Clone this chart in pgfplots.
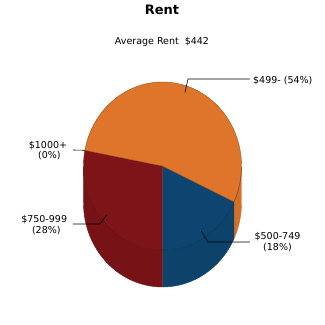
\documentclass[border=0pt]{standalone}
\usepackage{pgfplots}
\pgfplotsset{compat=1.18}
\usepackage{pgfplotstable}
\usepackage{fontspec}
\setmainfont{DejaVu Sans}

\definecolor{sliceOrange}{RGB}{222,117,42}
\definecolor{sliceRed}{RGB}{125,20,24}
\definecolor{sliceBlue}{RGB}{14,69,112}

% share of renters in each rent bracket (percent)
\pgfplotstableread{
bracket pct
0 54
1 18
2 28
3 0
}\rentdata

\begin{document}
\begin{tikzpicture}
% pie geometry (axis units = pt)
\def\cx{162.5}\def\cy{159}\def\rx{79}\def\ry{84}\def\dep{37}
\pgfplotstablegetelem{0}{pct}\of\rentdata \let\pA\pgfplotsretval
\pgfplotstablegetelem{1}{pct}\of\rentdata \let\pB\pgfplotsretval
\pgfplotstablegetelem{2}{pct}\of\rentdata \let\pC\pgfplotsretval
\pgfplotstablegetelem{3}{pct}\of\rentdata \let\pD\pgfplotsretval
% slice boundaries, running clockwise from the start angle
\pgfmathsetmacro{\aStart}{169.2}
\pgfmathsetmacro{\aOB}{\aStart-3.6*\pA}
\pgfmathsetmacro{\aBR}{\aOB-3.6*\pB}
\pgfmathsetmacro{\aRK}{\aBR-3.6*\pC}
\pgfmathsetmacro{\aEnd}{\aRK-3.6*\pD}
% leader anchor points at the middle of each slice
\pgfmathsetmacro{\mO}{(\aStart+\aOB)/2}
\pgfmathsetmacro{\mB}{(\aOB+\aBR)/2}
\pgfmathsetmacro{\mR}{(\aBR+\aRK)/2}
\pgfmathsetmacro{\xO}{\cx+0.92*\rx*cos(\mO)}\pgfmathsetmacro{\yO}{\cy+0.92*\ry*sin(\mO)}
\pgfmathsetmacro{\xB}{\cx+0.92*\rx*cos(\mB)}\pgfmathsetmacro{\yB}{\cy+0.92*\ry*sin(\mB)}
\pgfmathsetmacro{\xR}{\cx+0.92*\rx*cos(\mR)}\pgfmathsetmacro{\yR}{\cy+0.92*\ry*sin(\mR)}
\pgfmathsetmacro{\xK}{\cx+\rx*cos(\aRK)}\pgfmathsetmacro{\yK}{\cy+\ry*sin(\aRK)}
\begin{axis}[
  width=325pt, height=325pt, scale only axis,
  xmin=0, xmax=325, ymin=0, ymax=325,
  hide axis, clip=false,
]
\fill[white] (axis cs:0,0) rectangle (axis cs:325,325);

% visible side walls (front half)
\filldraw[fill=sliceOrange!95!black, draw=sliceOrange!95!black, line width=0.4pt]
  (axis cs:\cx,\cy) ++(0:\rx pt and \ry pt)
  arc[start angle=0, end angle=\aOB, x radius=\rx pt, y radius=\ry pt]
  -- ++(0,-\dep pt)
  arc[start angle=\aOB, end angle=0, x radius=\rx pt, y radius=\ry pt] -- cycle;
\filldraw[fill=sliceBlue!95!black, draw=sliceBlue!95!black, line width=0.4pt]
  (axis cs:\cx,\cy) ++(\aOB:\rx pt and \ry pt)
  arc[start angle=\aOB, end angle=\aBR, x radius=\rx pt, y radius=\ry pt]
  -- ++(0,-\dep pt)
  arc[start angle=\aBR, end angle=\aOB, x radius=\rx pt, y radius=\ry pt] -- cycle;
\filldraw[fill=sliceRed!95!black, draw=sliceRed!95!black, line width=0.4pt]
  (axis cs:\cx,\cy) ++(\aBR:\rx pt and \ry pt)
  arc[start angle=\aBR, end angle=-180, x radius=\rx pt, y radius=\ry pt]
  -- ++(0,-\dep pt)
  arc[start angle=-180, end angle=\aBR, x radius=\rx pt, y radius=\ry pt] -- cycle;

% top faces
\filldraw[fill=sliceBlue, draw=sliceBlue, line width=0.4pt]
  (axis cs:\cx,\cy) -- ++(\aOB:\rx pt and \ry pt)
  arc[start angle=\aOB, end angle=\aBR, x radius=\rx pt, y radius=\ry pt] -- cycle;
\filldraw[fill=sliceRed, draw=sliceRed, line width=0.4pt]
  (axis cs:\cx,\cy) -- ++(\aBR:\rx pt and \ry pt)
  arc[start angle=\aBR, end angle=\aRK, x radius=\rx pt, y radius=\ry pt] -- cycle;
\filldraw[fill=sliceOrange, draw=sliceOrange!70!black, line width=0.4pt]
  (axis cs:\cx,\cy) -- ++(\aStart:\rx pt and \ry pt)
  arc[start angle=\aStart, end angle=\aOB, x radius=\rx pt, y radius=\ry pt] -- cycle;

% rim of the top face across the front
\draw[black, opacity=0.22, line width=0.5pt] (axis cs:\cx,\cy) ++(180:\rx pt and \ry pt)
  arc[start angle=180, end angle=360, x radius=\rx pt, y radius=\ry pt];

% leader lines
\draw[line width=0.6pt] (axis cs:\xO,\yO) -- (axis cs:188,246) -- (axis cs:250,246);
\draw[line width=0.6pt] (axis cs:\xB,\yB) -- (axis cs:208,83) -- (axis cs:250,83);
\draw[line width=0.6pt] (axis cs:\xR,\yR) -- (axis cs:100,101) -- (axis cs:73,101);
\draw[line width=0.6pt] (axis cs:\xK,\yK) -- (axis cs:73,175);

% labels
\begin{scope}[every node/.style={inner sep=0pt, font=\fontsize{9.5}{11}\selectfont}]
\node[anchor=base west] at (axis cs:253,241.7) {\$499- (54\%)};
\node[anchor=base] at (axis cs:48,176.7) {\$1000+};
\node[anchor=base] at (axis cs:49.3,166.7) {(0\%)};
\node[anchor=base] at (axis cs:44.2,102.7) {\$750-999};
\node[anchor=base] at (axis cs:46.3,91.7) {(28\%)};
\node[anchor=base] at (axis cs:277.5,85.7) {\$500-749};
\node[anchor=base] at (axis cs:277.5,74.3) {(18\%)};
\node[anchor=base] at (axis cs:162,280) {Average Rent\ \ \$442};
\end{scope}
\node[anchor=base, inner sep=0pt, font=\fontsize{13}{15}\selectfont\bfseries] at (axis cs:162,311) {Rent};
\end{axis}
\end{tikzpicture}
\end{document}
